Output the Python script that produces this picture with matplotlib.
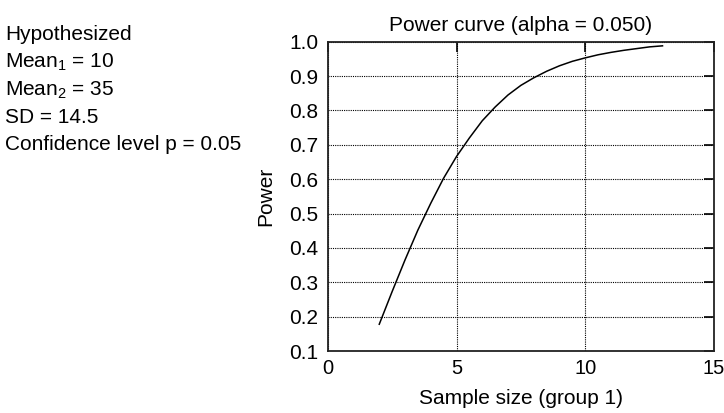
import matplotlib
matplotlib.use("Agg")
import matplotlib.pyplot as plt

plt.rcParams['font.family'] = ['Liberation Sans', 'DejaVu Sans']
plt.rcParams['mathtext.default'] = 'regular'

# values
sample_size = [2, 2.5, 3, 3.5, 4, 4.5, 5, 5.5, 6, 6.5, 7, 7.5, 8, 8.5, 9, 9.5,
               10, 10.5, 11, 11.5, 12, 12.5, 13]
power = [0.178, 0.273, 0.365, 0.452, 0.53, 0.603, 0.666, 0.72, 0.77, 0.81,
         0.845, 0.873, 0.895, 0.914, 0.93, 0.943, 0.953, 0.962, 0.969, 0.975,
         0.98, 0.985, 0.988]
x_ticks = [0, 5, 10, 15]
y_ticks = [0.1, 0.2, 0.3, 0.4, 0.5, 0.6, 0.7, 0.8, 0.9, 1.0]
info_lines = ["Hypothesized", "Mean$_1$ = 10", "Mean$_2$ = 35", "SD = 14.5",
              "Confidence level p = 0.05"]

fs = 15

fig = plt.figure(figsize=(7.24, 4.13), dpi=100)
ax = fig.add_axes([0.4527, 0.150, 0.5335, 0.749])

ax.plot(sample_size, power, color='black', lw=1.1)

ax.set_xlim(0, 15)
ax.set_ylim(0.1, 1.0)
ax.set_xticks(x_ticks)
ax.set_yticks(y_ticks)
ax.set_xticklabels([str(t) for t in x_ticks])
ax.set_yticklabels(["%.1f" % t for t in y_ticks])
ax.grid(True, color='black', linestyle=(0, (1, 1)), lw=0.8)

ax.tick_params(axis='both', labelsize=fs, direction='in', length=7, width=1.2,
               left=False, bottom=False, right=True, top=True)
ax.tick_params(axis='y', pad=7)
ax.tick_params(axis='x', pad=6, labelsize=14.5)
for s in ax.spines.values():
    s.set_color('#222222')
    s.set_linewidth(1.3)

ax.set_title("Power curve (alpha = 0.050)", fontsize=fs, pad=8)
ax.set_xlabel("Sample size (group 1)", fontsize=fs, labelpad=8)
ax.set_ylabel("Power", fontsize=fs, labelpad=10)

y0 = 40.5
for i, line in enumerate(info_lines):
    fig.text(5 / 724, 1 - (y0 + i * 27.5) / 413, line, fontsize=fs,
             ha='left', va='baseline')

fig.savefig("out.png", dpi=100)
